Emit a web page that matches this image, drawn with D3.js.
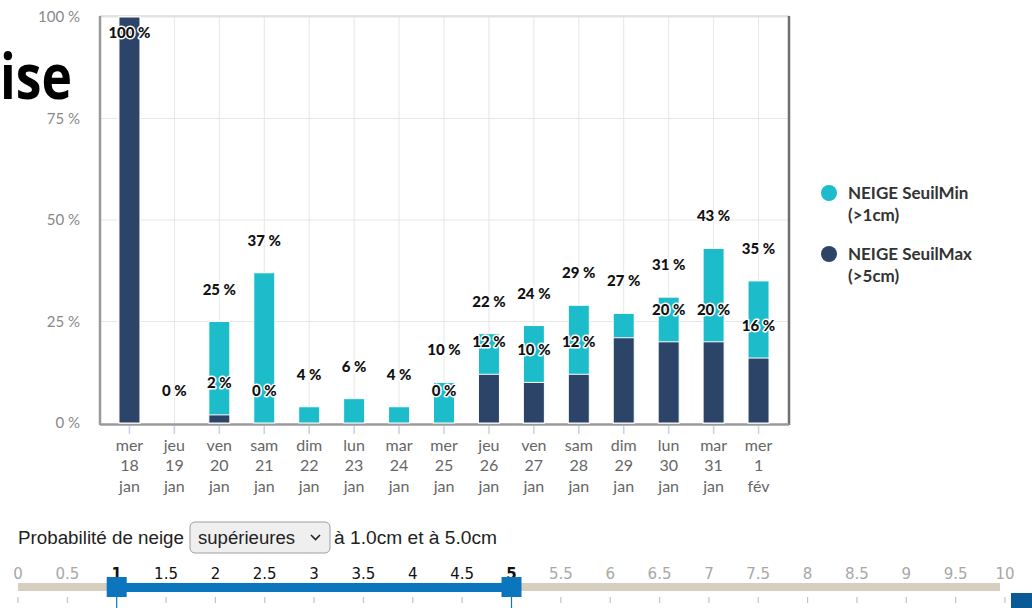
<!DOCTYPE html>
<html>
<head>
<meta charset="utf-8">
<script src="https://cdn.jsdelivr.net/npm/d3@7"></script>
<style>
  body { margin: 0; background: #fff; }
  svg { display: block; }
</style>
</head>
<body>
<script>
// categories (3-line x labels)
var days   = ["mer","jeu","ven","sam","dim","lun","mar","mer","jeu","ven","sam","dim","lun","mar","mer"];
var dates  = ["18","19","20","21","22","23","24","25","26","27","28","29","30","31","1"];
var months = ["jan","jan","jan","jan","jan","jan","jan","jan","jan","jan","jan","jan","jan","jan","fév"];

// series (%)
var seuilMin = [100, 0, 25, 37, 4, 6, 4, 10, 22, 24, 29, 27, 31, 43, 35];
var seuilMax = [100, 0, 2, 0, 0, 0, 0, 0, 12, 10, 12, 21, 20, 20, 16];

var yTicks = [0, 25, 50, 75, 100];
var seriesNames = [["NEIGE SeuilMin", "(>1cm)"], ["NEIGE SeuilMax", "(>5cm)"]];

// slider
var sliderTicks = [0,0.5,1,1.5,2,2.5,3,3.5,4,4.5,5,5.5,6,6.5,7,7.5,8,8.5,9,9.5,10];
var sliderRange = [1, 5];

var cMin = "#1dbccb", cMax = "#2c4468";
var chartFont = "Lato, 'Open Sans', sans-serif";

var svg = d3.select("body").append("svg")
    .attr("width", 1032)
    .attr("height", 608);

// big heading fragment behind the chart
svg.append("text")
    .attr("x", 0).attr("y", 99)
    .attr("font-family", "'Open Sans', sans-serif")
    .attr("font-weight", 700)
    .attr("font-size", 62)
    .attr("textLength", 72)
    .attr("lengthAdjust", "spacingAndGlyphs")
    .attr("fill", "#000")
    .text("ise");

var plot = {left: 100, right: 789, top: 16, bottom: 423};

var x = d3.scaleBand()
    .domain(d3.range(days.length))
    .range([107, 781]);

var y = d3.scaleLinear()
    .domain([0, 100])
    .range([423, 17]);

var g = svg.append("g");

// grid
g.selectAll(".hgrid")
    .data(yTicks.filter(d => d > 0))
    .enter().append("line")
    .attr("x1", plot.left).attr("x2", plot.right)
    .attr("y1", d => y(d)).attr("y2", d => y(d))
    .attr("stroke", "#e6e6e6").attr("stroke-width", 1);

g.selectAll(".vgrid")
    .data(d3.range(days.length))
    .enter().append("line")
    .attr("x1", d => x(d) + x.bandwidth() / 2).attr("x2", d => x(d) + x.bandwidth() / 2)
    .attr("y1", plot.top).attr("y2", plot.bottom)
    .attr("stroke", "#e6e6e6").attr("stroke-width", 1);

// frame
g.append("line").attr("x1", plot.left).attr("x2", plot.right).attr("y1", plot.top).attr("y2", plot.top)
    .attr("stroke", "#dddddd").attr("stroke-width", 1.5);
g.append("line").attr("x1", plot.right).attr("x2", plot.right).attr("y1", plot.top).attr("y2", plot.bottom + 2)
    .attr("stroke", "#6f6f6f").attr("stroke-width", 2.5);
g.append("line").attr("x1", plot.left).attr("x2", plot.left).attr("y1", plot.top).attr("y2", plot.bottom + 2)
    .attr("stroke", "#9a9a9a").attr("stroke-width", 2.5);
g.append("line").attr("x1", plot.left).attr("x2", plot.right).attr("y1", plot.bottom + 1.5).attr("y2", plot.bottom + 1.5)
    .attr("stroke", "#9a9a9a").attr("stroke-width", 2.5);

// y labels
g.selectAll(".ylab")
    .data(yTicks)
    .enter().append("text")
    .attr("x", 80)
    .attr("y", d => y(d) + 5)
    .attr("text-anchor", "end")
    .attr("font-family", chartFont)
    .attr("font-size", 15)
    .attr("fill", "#888")
    .text(d => d + " %");

// x ticks + labels
var barW = 21;
var xc = i => x(i) + x.bandwidth() / 2;

g.selectAll(".xtick")
    .data(d3.range(days.length))
    .enter().append("line")
    .attr("x1", xc).attr("x2", xc)
    .attr("y1", plot.bottom + 3).attr("y2", plot.bottom + 11)
    .attr("stroke", "#c7d1e6").attr("stroke-width", 1.5);

var xl = g.selectAll(".xlab")
    .data(d3.range(days.length))
    .enter().append("text")
    .attr("text-anchor", "middle")
    .attr("font-family", chartFont)
    .attr("font-size", 16)
    .attr("fill", "#666");
xl.append("tspan").attr("x", xc).attr("y", 451).text(i => days[i]);
xl.append("tspan").attr("x", xc).attr("y", 471).text(i => dates[i]);
xl.append("tspan").attr("x", xc).attr("y", 492).text(i => months[i]);

// bars (series overlap, SeuilMax drawn in front)
g.selectAll(".barMin")
    .data(seuilMin)
    .enter().append("rect")
    .attr("x", (d, i) => xc(i) - barW / 2)
    .attr("width", barW)
    .attr("y", d => y(d))
    .attr("height", d => y(0) - y(d))
    .attr("fill", cMin)
    .attr("stroke", "#fff").attr("stroke-width", 1);

g.selectAll(".barMax")
    .data(seuilMax)
    .enter().append("rect")
    .attr("x", (d, i) => xc(i) - barW / 2)
    .attr("width", barW)
    .attr("y", d => y(d))
    .attr("height", d => y(0) - y(d))
    .attr("fill", cMax)
    .attr("stroke", "#fff").attr("stroke-width", 1)
    .style("display", d => d > 0 ? null : "none");

// data labels
function labelY(v) {
    var c = y(v) - 32;
    if (c < plot.top + 8) c = plot.top + 17;
    return c;
}
var labels = [];
seuilMin.forEach((v, i) => labels.push({i: i, v: v, cy: labelY(v)}));
seuilMax.forEach((v, i) => {
    var cy = labelY(v);
    if (Math.abs(cy - labelY(seuilMin[i])) >= 30) labels.push({i: i, v: v, cy: cy});
});

g.selectAll(".dlab")
    .data(labels)
    .enter().append("text")
    .attr("x", d => xc(d.i))
    .attr("y", d => d.cy + 5)
    .attr("text-anchor", "middle")
    .attr("font-family", chartFont)
    .attr("font-weight", 900)
    .attr("font-size", 15)
    .attr("fill", "#111")
    .attr("stroke", "#fff")
    .attr("stroke-width", 3)
    .attr("stroke-linejoin", "round")
    .attr("paint-order", "stroke")
    .text(d => d.v + " %");

// legend
var leg = svg.append("g");
var legItem = leg.selectAll(".leg")
    .data(seriesNames)
    .enter().append("g")
    .attr("transform", (d, i) => `translate(829,${193 + i * 61})`);
legItem.append("circle").attr("r", 8).attr("fill", (d, i) => i === 0 ? cMin : cMax);
var lt = legItem.append("text")
    .attr("font-family", chartFont)
    .attr("font-weight", 700)
    .attr("font-size", 17)
    .attr("fill", "#333");
lt.append("tspan").attr("x", 19).attr("y", 6).text(d => d[0]);
lt.append("tspan").attr("x", 19).attr("y", 28).text(d => d[1]);

// controls line
var ui = "'Liberation Sans', Arial, sans-serif";
svg.append("text").attr("x", 18).attr("y", 544)
    .attr("font-family", ui).attr("font-size", 18).attr("fill", "#222")
    .attr("textLength", 166).attr("lengthAdjust", "spacingAndGlyphs")
    .text("Probabilité de neige");
svg.append("rect").attr("x", 190).attr("y", 522).attr("width", 140).attr("height", 31).attr("rx", 5)
    .attr("fill", "#efefef").attr("stroke", "#9d9d9d").attr("stroke-width", 1);
svg.append("text").attr("x", 198).attr("y", 544)
    .attr("font-family", ui).attr("font-size", 18).attr("fill", "#222")
    .attr("textLength", 97).attr("lengthAdjust", "spacingAndGlyphs")
    .text("supérieures");
svg.append("path").attr("d", "M311,535 L315.5,539.5 L320,535")
    .attr("fill", "none").attr("stroke", "#222").attr("stroke-width", 1.6);
svg.append("text").attr("x", 334).attr("y", 544)
    .attr("font-family", ui).attr("font-size", 18).attr("fill", "#222")
    .attr("textLength", 163).attr("lengthAdjust", "spacingAndGlyphs")
    .text("à 1.0cm et à 5.0cm");

// slider
var s = d3.scaleLinear().domain([0, 10]).range([18, 1005]);
var inRange = d => d >= sliderRange[0] && d <= sliderRange[1];

svg.append("rect").attr("x", s(0)).attr("y", 583).attr("width", s(10) - s(0) - 5).attr("height", 8)
    .attr("fill", "#d6cebf");
svg.append("rect").attr("x", s(sliderRange[0])).attr("y", 583)
    .attr("width", s(sliderRange[1]) - s(sliderRange[0])).attr("height", 9)
    .attr("fill", "#0b76bd");

svg.selectAll(".stick")
    .data(sliderTicks)
    .enter().append("line")
    .attr("x1", d => s(d)).attr("x2", d => s(d))
    .attr("y1", 597)
    .attr("y2", d => d === sliderRange[0] || d === sliderRange[1] ? 608 : 603)
    .attr("stroke", d => d === sliderRange[0] || d === sliderRange[1] ? "#0b76bd" : "#c4c4c4")
    .attr("stroke-width", 1.2);

svg.selectAll(".slab")
    .data(sliderTicks)
    .enter().append("text")
    .attr("x", d => s(d))
    .attr("y", 579)
    .attr("text-anchor", "middle")
    .attr("font-family", "'DejaVu Sans', Verdana, sans-serif")
    .attr("font-size", 15)
    .attr("font-weight", d => d === sliderRange[0] || d === sliderRange[1] ? 700 : 400)
    .attr("fill", d => inRange(d) ? "#111" : "#a8a8a8")
    .text(d => d);

svg.selectAll(".handle")
    .data(sliderRange)
    .enter().append("rect")
    .attr("x", d => s(d) - 10).attr("y", 577)
    .attr("width", 20).attr("height", 20)
    .attr("fill", "#0b76bd");

svg.append("rect").attr("x", 1011).attr("y", 593).attr("width", 21).attr("height", 15)
    .attr("fill", "#0b5a98");
</script>
</body>
</html>
